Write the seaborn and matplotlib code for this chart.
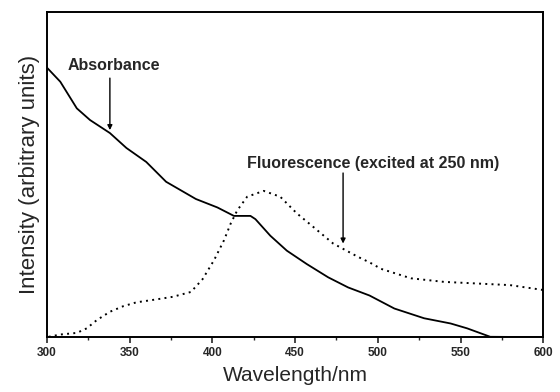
import matplotlib
matplotlib.use("Agg")
import matplotlib.pyplot as plt
import seaborn as sns
import pandas as pd

# Absorbance curve (intensity in arbitrary units 0..1)
absNm = [300, 308, 318, 326, 338, 348, 360, 372, 390, 403, 413, 423, 426, 435,
         445, 457, 470, 482, 495, 510, 528, 544, 554, 568, 600]
absVal = [0.829, 0.786, 0.704, 0.668, 0.628, 0.582, 0.539, 0.478, 0.425, 0.399,
          0.373, 0.373, 0.363, 0.312, 0.266, 0.225, 0.184, 0.153, 0.128, 0.088,
          0.058, 0.042, 0.027, 0.001, 0.0]

# Fluorescence curve (excited at 250 nm)
fluNm = [301, 308, 318, 324, 330, 338, 346, 354, 366, 376, 387, 394, 401, 407,
         411, 415, 421, 431, 441, 451, 461, 473, 488, 495, 502, 520, 540, 560,
         580, 600]
fluVal = [0.001, 0.008, 0.013, 0.027, 0.052, 0.078, 0.095, 0.107, 0.116, 0.124,
          0.139, 0.178, 0.237, 0.298, 0.349, 0.390, 0.432, 0.450, 0.432, 0.381,
          0.339, 0.288, 0.247, 0.230, 0.210, 0.181, 0.170, 0.165, 0.160, 0.145]

xTicks = [300, 350, 400, 450, 500, 550, 600]

absDf = pd.DataFrame({"nm": absNm, "val": absVal})
fluDf = pd.DataFrame({"nm": fluNm, "val": fluVal})

sns.set_style("ticks")
plt.rcParams["font.family"] = ["Liberation Sans", "DejaVu Sans"]

fig = plt.figure(figsize=(5.6, 3.92), dpi=100)
ax = fig.add_axes([0.084, 0.140, 0.886, 0.829])

sns.lineplot(data=absDf, x="nm", y="val", ax=ax, color="black", linewidth=1.3)
sns.lineplot(data=fluDf, x="nm", y="val", ax=ax, color="black", linewidth=1.4,
             linestyle=(0, (1, 2.2)))

ax.set_xlim(300, 600)
ax.set_ylim(0, 1)
ax.set_xticks(xTicks)
ax.set_xticks(range(325, 600, 50), minor=True)
ax.set_yticks([])
ax.tick_params(axis="x", which="major", direction="out", length=4, width=1.2,
               labelsize=8.5, pad=3)
ax.tick_params(axis="x", which="minor", direction="out", length=2.5, width=1)
for lbl in ax.get_xticklabels():
    lbl.set_fontweight("bold")
for sp in ax.spines.values():
    sp.set_linewidth(1.4)
    sp.set_color("black")

ax.set_xlabel("Wavelength/nm", fontsize=15, labelpad=5)
ax.set_ylabel("Intensity (arbitrary units)", fontsize=16, labelpad=5)

arrowStyle = dict(arrowstyle="-|>", color="black", lw=1.0, mutation_scale=7,
                  shrinkA=0, shrinkB=0)
ax.text(340.6, 0.837, "Absorbance", ha="center", va="center", fontsize=11.5,
        fontweight="bold")
ax.annotate("", xy=(338, 0.637), xytext=(338, 0.797), arrowprops=arrowStyle)

ax.text(497, 0.534, "Fluorescence (excited at 250 nm)", ha="center",
        va="center", fontsize=11.5, fontweight="bold")
ax.annotate("", xy=(479, 0.288), xytext=(479, 0.505), arrowprops=arrowStyle)

fig.savefig("out.png", dpi=100)
